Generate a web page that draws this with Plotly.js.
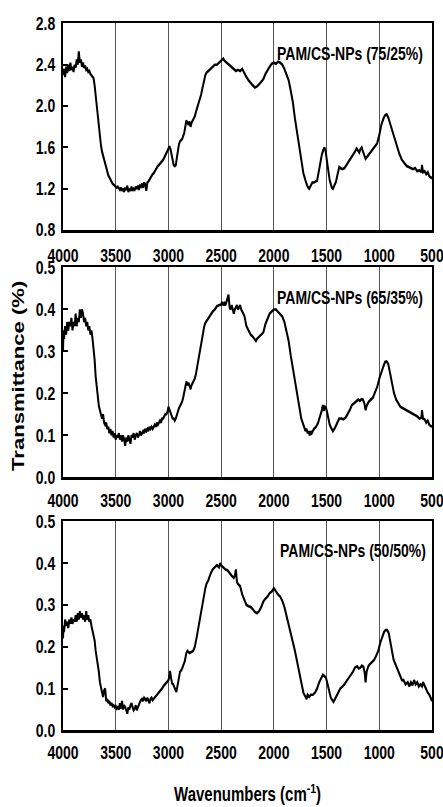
<!DOCTYPE html>
<html>
<head>
<meta charset="utf-8">
<script src="https://cdn.plot.ly/plotly-3.0.1.min.js"></script>
<style>
html{margin:0;padding:0;background:#fff;overflow:hidden;}
body{margin:0;padding:0;background:#fff;width:443px;height:807px;}
#wrap{width:443px;height:807px;position:relative;overflow:hidden;}
#chart{position:absolute;left:0;top:0;width:443px;height:625px;transform:scale(1,1.2995);transform-origin:0 0;}
</style>
</head>
<body>
<div id="wrap"><div id="chart"></div></div>
<script>
// ---- DATA ----
const tickVals = [4000, 3500, 3000, 2500, 2000, 1500, 1000, 500];
const seriesNames = ["PAM/CS-NPs (75/25%)", "PAM/CS-NPs (65/35%)", "PAM/CS-NPs (50/50%)"];

const wn1 = [4000,3990,3980,3970,3960,3950,3940,3930,3920,3910,3900,3890,3880,3870,3860,3850,3840,3830,3820,3810,3800,3790,3780,3770,3760,3750,3740,3730,3720,3710,3700,3690,3680,3670,3660,3650,3640,3630,3620,3610,3600,3590,3580,3570,3560,3550,3540,3530,3520,3510,3500,3490,3480,3470,3460,3450,3440,3430,3420,3410,3400,3390,3380,3370,3360,3350,3340,3330,3320,3310,3300,3290,3280,3270,3260,3250,3240,3230,3220,3210,3200,3190,3180,3170,3160,3150,3140,3130,3120,3110,3100,3090,3080,3070,3060,3050,3040,3030,3020,3010,3000,2990,2980,2970,2960,2950,2940,2930,2920,2910,2900,2890,2880,2870,2860,2850,2840,2830,2820,2810,2800,2790,2780,2770,2760,2750,2740,2730,2720,2710,2700,2690,2680,2670,2660,2650,2640,2630,2620,2610,2600,2580,2560,2540,2520,2500,2490,2480,2470,2460,2440,2420,2400,2380,2360,2340,2320,2300,2290,2280,2260,2240,2220,2200,2180,2160,2140,2120,2100,2080,2060,2040,2020,2000,1980,1960,1940,1920,1900,1880,1860,1840,1820,1800,1780,1760,1740,1720,1700,1680,1665,1650,1635,1620,1605,1590,1575,1560,1545,1530,1520,1510,1500,1490,1480,1470,1460,1450,1440,1430,1420,1410,1400,1390,1380,1370,1350,1330,1310,1290,1270,1250,1230,1215,1200,1190,1180,1167,1155,1140,1130,1115,1100,1080,1060,1040,1020,1000,980,960,945,930,915,900,880,860,834,810,786,760,740,720,700,680,660,640,620,600,595,585,570,555,540,525,510,500];
const t1 = [2.30,2.36,2.28,2.38,2.32,2.40,2.34,2.42,2.35,2.38,2.33,2.40,2.37,2.45,2.40,2.53,2.42,2.45,2.38,2.42,2.37,2.39,2.35,2.36,2.33,2.34,2.31,2.30,2.28,2.27,2.20,2.10,1.99,1.88,1.79,1.72,1.62,1.56,1.52,1.47,1.45,1.40,1.37,1.33,1.31,1.28,1.27,1.25,1.24,1.23,1.22,1.21,1.22,1.20,1.19,1.21,1.18,1.20,1.17,1.21,1.19,1.23,1.17,1.20,1.18,1.22,1.18,1.20,1.19,1.22,1.20,1.23,1.19,1.23,1.22,1.25,1.21,1.26,1.24,1.18,1.26,1.27,1.29,1.30,1.32,1.34,1.35,1.37,1.38,1.40,1.42,1.43,1.44,1.46,1.47,1.48,1.50,1.52,1.54,1.56,1.58,1.61,1.58,1.52,1.46,1.43,1.42,1.43,1.50,1.58,1.63,1.66,1.67,1.68,1.71,1.74,1.80,1.86,1.84,1.82,1.85,1.80,1.84,1.86,1.88,1.90,1.94,1.97,2.00,2.03,2.06,2.11,2.16,2.21,2.26,2.30,2.32,2.33,2.35,2.36,2.36,2.38,2.40,2.40,2.42,2.43,2.45,2.46,2.44,2.43,2.41,2.39,2.38,2.36,2.34,2.35,2.34,2.36,2.34,2.31,2.28,2.25,2.22,2.20,2.18,2.19,2.21,2.23,2.26,2.31,2.35,2.38,2.41,2.42,2.41,2.43,2.42,2.40,2.36,2.31,2.25,2.15,2.04,1.88,1.75,1.62,1.47,1.35,1.28,1.22,1.20,1.24,1.26,1.26,1.27,1.28,1.36,1.45,1.53,1.58,1.60,1.57,1.51,1.44,1.35,1.28,1.23,1.21,1.20,1.22,1.24,1.27,1.32,1.38,1.41,1.40,1.39,1.40,1.43,1.47,1.50,1.53,1.56,1.59,1.57,1.55,1.58,1.60,1.56,1.52,1.49,1.51,1.53,1.55,1.58,1.61,1.64,1.72,1.82,1.88,1.91,1.92,1.89,1.84,1.77,1.69,1.61,1.54,1.48,1.45,1.42,1.41,1.40,1.39,1.40,1.37,1.38,1.36,1.43,1.36,1.37,1.34,1.36,1.32,1.31,1.30];

const wn2 = [4000,3995,3990,3980,3970,3960,3950,3940,3930,3920,3910,3900,3890,3880,3870,3860,3850,3840,3830,3820,3810,3800,3790,3780,3770,3760,3750,3740,3730,3720,3710,3700,3690,3680,3670,3660,3650,3640,3630,3620,3610,3600,3590,3580,3570,3560,3550,3540,3530,3520,3510,3500,3490,3480,3470,3460,3450,3440,3430,3420,3410,3400,3390,3380,3370,3360,3350,3340,3330,3320,3310,3300,3290,3280,3270,3260,3250,3240,3230,3220,3210,3200,3190,3180,3170,3160,3150,3140,3130,3120,3110,3100,3090,3080,3070,3060,3050,3040,3030,3020,3010,3000,2990,2980,2970,2960,2950,2940,2930,2920,2910,2900,2890,2880,2870,2860,2850,2840,2830,2820,2810,2800,2790,2780,2770,2760,2750,2740,2730,2720,2710,2700,2690,2680,2670,2660,2650,2640,2630,2620,2610,2600,2580,2560,2540,2520,2500,2490,2480,2470,2460,2450,2440,2430,2420,2410,2400,2390,2380,2370,2360,2350,2340,2330,2320,2310,2300,2280,2260,2240,2220,2200,2180,2170,2160,2140,2120,2100,2080,2060,2040,2020,2000,1980,1960,1940,1920,1900,1880,1860,1840,1820,1800,1780,1760,1740,1720,1700,1690,1680,1670,1660,1650,1640,1620,1600,1580,1560,1545,1535,1525,1515,1505,1495,1485,1470,1455,1440,1420,1400,1380,1360,1340,1320,1300,1280,1260,1240,1220,1200,1185,1170,1155,1140,1130,1120,1100,1085,1060,1040,1020,1000,980,960,945,930,915,900,880,860,840,820,800,780,760,740,720,700,680,660,640,620,600,595,585,570,555,540,525,510,500];
const t2 = [0.30,0.35,0.33,0.36,0.34,0.37,0.35,0.37,0.36,0.38,0.35,0.37,0.36,0.39,0.36,0.38,0.37,0.40,0.38,0.40,0.39,0.37,0.38,0.36,0.37,0.35,0.36,0.34,0.35,0.33,0.31,0.28,0.24,0.21,0.19,0.17,0.16,0.15,0.14,0.15,0.13,0.125,0.13,0.115,0.12,0.105,0.115,0.10,0.11,0.095,0.105,0.09,0.10,0.095,0.105,0.09,0.10,0.085,0.10,0.09,0.075,0.095,0.085,0.10,0.09,0.08,0.10,0.095,0.105,0.09,0.10,0.105,0.095,0.10,0.11,0.10,0.105,0.11,0.105,0.115,0.11,0.115,0.11,0.12,0.115,0.12,0.115,0.12,0.125,0.12,0.13,0.125,0.13,0.135,0.13,0.14,0.14,0.145,0.15,0.15,0.155,0.168,0.16,0.15,0.145,0.14,0.14,0.135,0.14,0.15,0.16,0.165,0.17,0.175,0.18,0.19,0.20,0.215,0.228,0.22,0.225,0.215,0.21,0.22,0.225,0.23,0.235,0.245,0.26,0.275,0.29,0.30,0.315,0.33,0.345,0.36,0.368,0.372,0.378,0.38,0.385,0.388,0.395,0.40,0.408,0.41,0.412,0.418,0.41,0.415,0.41,0.418,0.425,0.435,0.405,0.40,0.41,0.395,0.39,0.40,0.405,0.41,0.40,0.405,0.41,0.40,0.395,0.385,0.36,0.35,0.34,0.335,0.328,0.325,0.33,0.335,0.34,0.345,0.365,0.378,0.39,0.395,0.40,0.40,0.395,0.39,0.383,0.37,0.35,0.325,0.29,0.26,0.225,0.20,0.17,0.14,0.125,0.11,0.115,0.105,0.11,0.10,0.11,0.105,0.115,0.12,0.13,0.145,0.16,0.172,0.158,0.168,0.165,0.155,0.14,0.125,0.117,0.11,0.118,0.13,0.14,0.14,0.138,0.142,0.15,0.16,0.172,0.176,0.18,0.185,0.182,0.186,0.185,0.175,0.16,0.17,0.18,0.185,0.19,0.203,0.215,0.235,0.252,0.265,0.275,0.276,0.27,0.25,0.225,0.20,0.185,0.175,0.168,0.165,0.162,0.16,0.158,0.155,0.15,0.148,0.145,0.14,0.142,0.16,0.14,0.138,0.13,0.135,0.125,0.122,0.12];

const wn3 = [4000,3995,3990,3980,3970,3960,3950,3940,3930,3920,3910,3900,3890,3880,3870,3860,3850,3840,3830,3820,3810,3800,3790,3780,3770,3760,3750,3740,3730,3720,3710,3700,3690,3680,3670,3660,3650,3640,3630,3620,3610,3600,3590,3580,3570,3560,3550,3540,3530,3520,3510,3500,3490,3480,3470,3460,3450,3440,3430,3420,3410,3400,3390,3380,3370,3360,3350,3340,3330,3320,3310,3300,3290,3280,3270,3260,3250,3240,3230,3220,3210,3200,3190,3180,3170,3160,3150,3140,3130,3120,3110,3100,3090,3080,3070,3060,3050,3040,3030,3020,3010,3000,2990,2985,2975,2965,2955,2945,2935,2925,2915,2900,2890,2875,2860,2845,2830,2820,2800,2780,2765,2750,2740,2730,2720,2710,2700,2690,2680,2670,2660,2650,2640,2630,2620,2600,2580,2560,2540,2520,2510,2500,2480,2460,2440,2420,2400,2380,2370,2360,2350,2340,2320,2300,2280,2260,2240,2220,2200,2180,2160,2140,2120,2100,2080,2060,2040,2020,2000,1990,1980,1960,1940,1920,1900,1880,1860,1840,1820,1800,1780,1760,1740,1720,1700,1690,1680,1665,1650,1630,1610,1590,1570,1550,1535,1520,1505,1490,1475,1460,1445,1435,1420,1400,1385,1370,1350,1330,1310,1290,1270,1250,1230,1210,1195,1180,1165,1150,1140,1130,1120,1105,1090,1070,1050,1030,1010,990,970,955,940,925,910,895,880,865,850,835,820,800,785,770,750,730,715,700,685,670,655,640,625,610,595,585,570,555,540,525,510,500];
const t3 = [0.22,0.25,0.235,0.265,0.25,0.26,0.245,0.265,0.255,0.27,0.255,0.265,0.26,0.275,0.26,0.28,0.265,0.285,0.27,0.28,0.265,0.275,0.26,0.285,0.265,0.275,0.26,0.265,0.25,0.24,0.23,0.215,0.19,0.175,0.16,0.14,0.115,0.10,0.09,0.08,0.095,0.10,0.07,0.075,0.065,0.07,0.06,0.065,0.058,0.06,0.055,0.058,0.052,0.055,0.05,0.065,0.052,0.07,0.05,0.06,0.055,0.045,0.04,0.055,0.05,0.06,0.065,0.055,0.048,0.052,0.06,0.048,0.055,0.065,0.068,0.072,0.075,0.07,0.078,0.075,0.07,0.078,0.072,0.065,0.075,0.078,0.072,0.075,0.08,0.082,0.085,0.088,0.09,0.095,0.098,0.10,0.105,0.108,0.11,0.115,0.118,0.12,0.13,0.142,0.125,0.112,0.11,0.105,0.10,0.092,0.105,0.125,0.14,0.145,0.155,0.165,0.185,0.19,0.185,0.188,0.19,0.20,0.21,0.225,0.24,0.255,0.265,0.285,0.30,0.32,0.335,0.34,0.35,0.355,0.36,0.375,0.385,0.39,0.395,0.39,0.40,0.395,0.39,0.385,0.383,0.375,0.37,0.365,0.37,0.385,0.355,0.35,0.345,0.325,0.31,0.30,0.297,0.295,0.29,0.283,0.28,0.285,0.295,0.308,0.315,0.32,0.328,0.332,0.34,0.336,0.335,0.325,0.32,0.31,0.295,0.275,0.255,0.23,0.21,0.19,0.165,0.14,0.115,0.09,0.08,0.075,0.085,0.08,0.085,0.085,0.09,0.10,0.115,0.125,0.133,0.13,0.125,0.11,0.09,0.078,0.072,0.068,0.075,0.085,0.09,0.10,0.105,0.11,0.118,0.125,0.13,0.14,0.15,0.153,0.148,0.15,0.155,0.152,0.14,0.115,0.14,0.153,0.158,0.162,0.168,0.178,0.19,0.21,0.225,0.235,0.24,0.24,0.232,0.21,0.185,0.17,0.16,0.15,0.14,0.125,0.12,0.12,0.11,0.115,0.105,0.115,0.108,0.12,0.11,0.115,0.105,0.11,0.105,0.115,0.105,0.10,0.09,0.085,0.078,0.07];

// ---- STYLE ----
// The reference figure is vertically stretched; the plot is drawn at 443x625 and stretched by CSS (factor 1.2995).
const sans = "'Liberation Sans', Arial, sans-serif";
const tickFont = {family: sans, size: 14, color: '#000', weight: 'bold'};

function xAxis(anchor, standoff) {
  return {
    anchor: anchor, range: [4000, 500], tickmode: 'array', tickvals: tickVals,
    ticktext: tickVals.map(String),
    showgrid: true, gridcolor: '#555', gridwidth: 1, zeroline: false,
    showline: true, mirror: true, linecolor: '#000', linewidth: 2,
    ticks: '', tickfont: tickFont, ticklabelstandoff: standoff, ticklabeloverflow: 'allow'
  };
}
function yAxis(domain, range, dtick, anchor) {
  return {
    anchor: anchor, domain: domain, range: range, tick0: range[0], dtick: dtick,
    tickformat: '.1f', showgrid: false, zeroline: false,
    showline: true, mirror: true, linecolor: '#000', linewidth: 2,
    ticks: 'inside', ticklen: 5, tickwidth: 1.5, tickcolor: '#000',
    tickfont: tickFont, ticklabelstandoff: 3
  };
}

const lineStyle = {color: '#000', width: 2};
const traces = [
  {x: wn1, y: t1, type: 'scatter', mode: 'lines', line: lineStyle, xaxis: 'x', yaxis: 'y', name: seriesNames[0]},
  {x: wn2, y: t2, type: 'scatter', mode: 'lines', line: lineStyle, xaxis: 'x2', yaxis: 'y2', name: seriesNames[1]},
  {x: wn3, y: t3, type: 'scatter', mode: 'lines', line: lineStyle, xaxis: 'x3', yaxis: 'y3', name: seriesNames[2]}
];

const annFont = {family: sans, size: 14, color: '#000', weight: 'bold'};
const layout = {
  width: 443, height: 625,
  margin: {l: 63, r: 11, t: 18, b: 63},
  paper_bgcolor: '#fff', plot_bgcolor: '#fff',
  showlegend: false,
  xaxis: xAxis('y', 6), xaxis2: xAxis('y2', 4), xaxis3: xAxis('y3', 3),
  yaxis: yAxis([0.7076, 1.0], [0.8, 2.8], 0.4, 'x'),
  yaxis2: yAxis([0.358, 0.6547], [0, 0.5], 0.1, 'x2'),
  yaxis3: yAxis([0, 0.2956], [0, 0.5], 0.1, 'x3'),
  annotations: [
    {text: seriesNames[0], xref: 'paper', yref: 'paper', x: 0.981, y: 0.9576, xanchor: 'right', yanchor: 'middle', showarrow: false, font: annFont},
    {text: seriesNames[1], xref: 'paper', yref: 'paper', x: 0.981, y: 0.613, xanchor: 'right', yanchor: 'middle', showarrow: false, font: annFont},
    {text: seriesNames[2], xref: 'paper', yref: 'paper', x: 0.989, y: 0.2528, xanchor: 'right', yanchor: 'middle', showarrow: false, font: annFont},
    {text: 'Transmittance (%)', xref: 'paper', yref: 'paper', x: -0.122, y: 0.501, xanchor: 'center', yanchor: 'middle', textangle: -90, showarrow: false,
     font: {family: sans, size: 17, color: '#000', weight: 'bold'}},
    {text: 'Wavenumbers (cm<sup>-1</sup>)', xref: 'paper', yref: 'paper', x: 0.5, y: -0.088, xanchor: 'center', yanchor: 'middle', showarrow: false,
     font: {family: sans, size: 15, color: '#000', weight: 'bold'}}
  ]
};

Plotly.newPlot('chart', traces, layout, {displayModeBar: false, staticPlot: true});
</script>
</body>
</html>
